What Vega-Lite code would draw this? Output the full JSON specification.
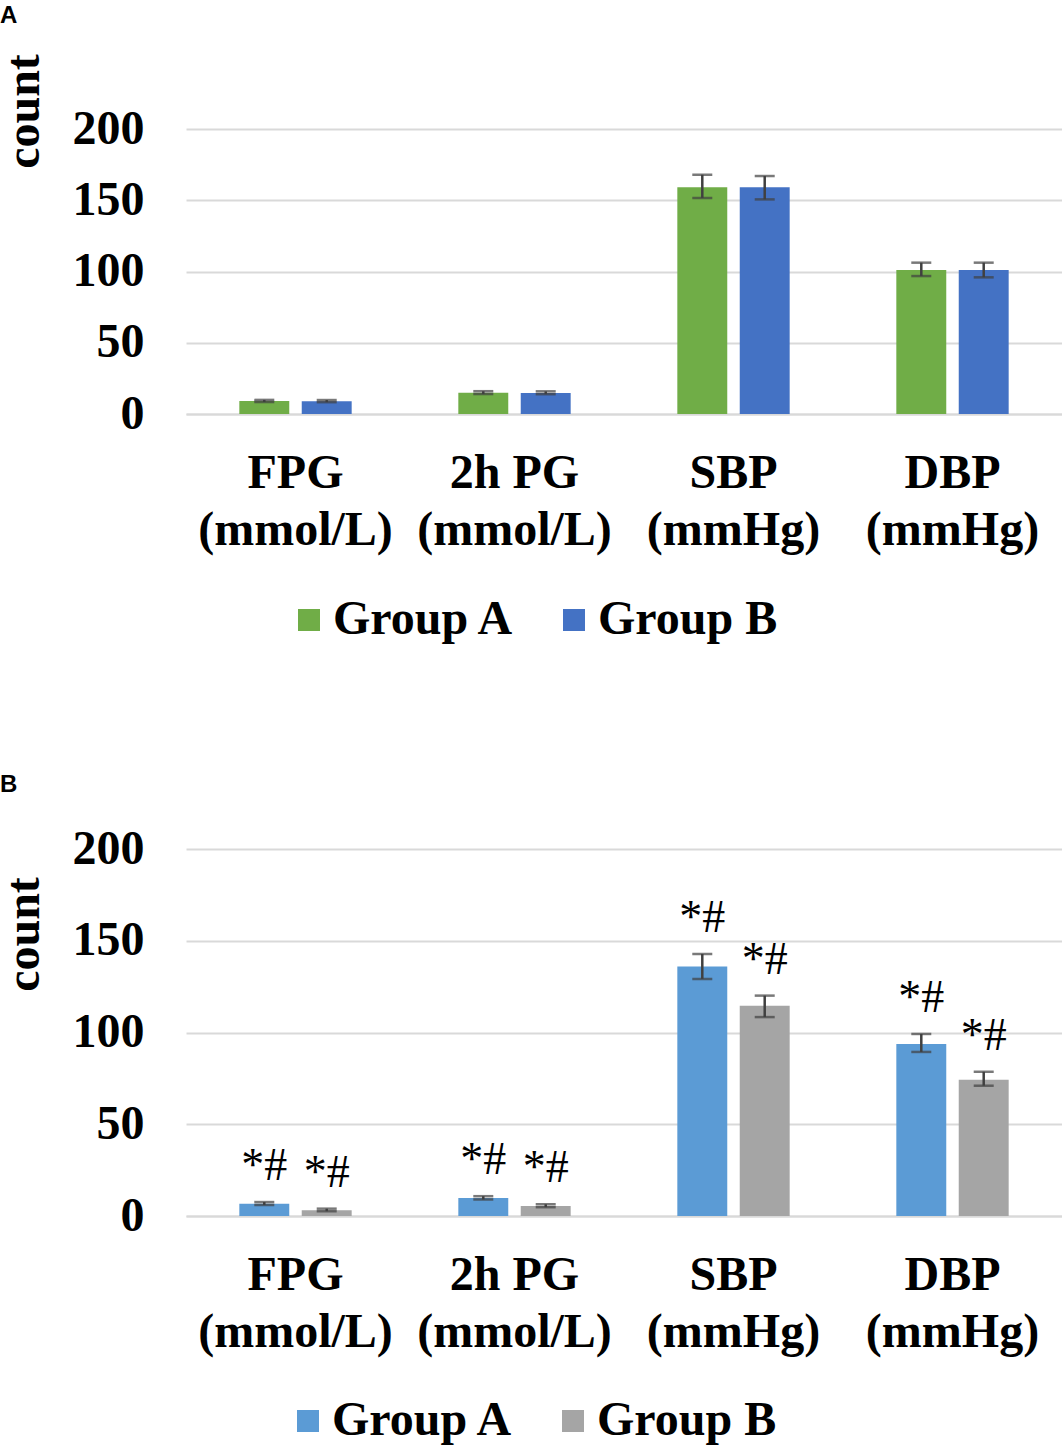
{
  "$schema": "https://vega.github.io/schema/vega-lite/v6.json",
  "padding": {"left": 0, "top": 3, "right": 0, "bottom": 0},
  "background": "white",
  "config": {
    "font": "Liberation Serif",
    "view": {"stroke": null},
    "axisX": {
      "labelFont": "Liberation Serif", "labelFontSize": 48, "labelFontWeight": "bold", "labelColor": "black",
      "labelAngle": 0, "labelLineHeight": 57, "labelPadding": 35, "labelLimit": 0, "ticks": false,
      "domainColor": "#d9d9d9", "domainWidth": 2, "grid": false, "title": null
    },
    "axisY": {
      "labelFont": "Liberation Serif", "labelFontSize": 48, "labelFontWeight": "bold", "labelColor": "black",
      "labelPadding": 42, "ticks": false, "domain": false, "gridColor": "#d9d9d9", "gridWidth": 2,
      "titleFont": "Liberation Serif", "titleFontSize": 48, "titleFontWeight": "bold", "titleColor": "black",
      "titleAngle": -90, "titleAlign": "center", "titleBaseline": "top"
    },
    "legend": {
      "labelFont": "Liberation Serif", "labelFontSize": 48, "labelFontWeight": "bold", "labelColor": "black",
      "labelLimit": 0, "symbolType": "square", "symbolSize": 484, "symbolStrokeWidth": 0, "labelOffset": 0, "columnPadding": 35,
      "direction": "horizontal", "title": null
    },
    "title": {"font": "Liberation Sans", "fontSize": 24, "fontWeight": "bold", "color": "black", "anchor": "start", "frame": "bounds"}
  },
  "datasets": {
    "a": [
      {"cat": "FPG (mmol/L)", "group": "Group A", "mean": 9.1, "lo": 8.4, "hi": 9.9},
      {"cat": "FPG (mmol/L)", "group": "Group B", "mean": 9.0, "lo": 8.3, "hi": 9.8},
      {"cat": "2h PG (mmol/L)", "group": "Group A", "mean": 14.9, "lo": 14.0, "hi": 16.0},
      {"cat": "2h PG (mmol/L)", "group": "Group B", "mean": 14.8, "lo": 13.9, "hi": 15.9},
      {"cat": "SBP (mmHg)", "group": "Group A", "mean": 159.1, "lo": 151.6, "hi": 167.9},
      {"cat": "SBP (mmHg)", "group": "Group B", "mean": 159.1, "lo": 150.6, "hi": 167.0},
      {"cat": "DBP (mmHg)", "group": "Group A", "mean": 101.0, "lo": 96.8, "hi": 106.2},
      {"cat": "DBP (mmHg)", "group": "Group B", "mean": 101.0, "lo": 95.9, "hi": 106.2}
    ],
    "b": [
      {"cat": "FPG (mmol/L)", "group": "Group A", "mean": 6.7, "lo": 6.0, "hi": 7.6, "sig": "*#"},
      {"cat": "FPG (mmol/L)", "group": "Group B", "mean": 3.2, "lo": 2.6, "hi": 4.0, "sig": "*#"},
      {"cat": "2h PG (mmol/L)", "group": "Group A", "mean": 9.8, "lo": 9.0, "hi": 10.8, "sig": "*#"},
      {"cat": "2h PG (mmol/L)", "group": "Group B", "mean": 5.5, "lo": 4.8, "hi": 6.4, "sig": "*#"},
      {"cat": "SBP (mmHg)", "group": "Group A", "mean": 135.9, "lo": 129.2, "hi": 142.8, "sig": "*#"},
      {"cat": "SBP (mmHg)", "group": "Group B", "mean": 114.6, "lo": 108.4, "hi": 120.1, "sig": "*#"},
      {"cat": "DBP (mmHg)", "group": "Group A", "mean": 93.7, "lo": 89.4, "hi": 99.2, "sig": "*#"},
      {"cat": "DBP (mmHg)", "group": "Group B", "mean": 74.3, "lo": 71.0, "hi": 78.6, "sig": "*#"}
    ]
  },
  "spacing": 129,
  "resolve": {"scale": {"color": "independent"}, "legend": {"color": "independent"}},
  "vconcat": [
    {
      "title": {"text": "A", "offset": 26},
      "width": 876,
      "height": 285,
      "data": {"name": "a"},
      "encoding": {
        "x": {
          "field": "cat", "type": "nominal", "sort": null,
          "scale": {"paddingInner": 0.487, "paddingOuter": 0.2435},
          "axis": {"labelExpr": "[slice(datum.label, 0, indexof(datum.label, ' (')), slice(datum.label, indexof(datum.label, ' (') + 1)]"}
        },
        "xOffset": {"field": "group", "type": "nominal", "scale": {"paddingInner": 0.2, "paddingOuter": 0}}
      },
      "layer": [
        {
          "mark": {"type": "bar"},
          "encoding": {
            "y": {"field": "mean", "type": "quantitative", "scale": {"domain": [0, 200]},
                  "axis": {"values": [0, 50, 100, 150, 200], "title": "count", "titleX": -186, "titleY": -18}},
            "color": {"field": "group", "type": "nominal",
                      "scale": {"domain": ["Group A", "Group B"], "range": ["#70AD47", "#4472C4"]},
                      "legend": {"orient": "none", "legendX": 99, "legendY": 467}}
          }
        },
        {
          "mark": {"type": "rule", "color": "#404040", "strokeWidth": 2.5},
          "encoding": {"y": {"field": "lo", "type": "quantitative"}, "y2": {"field": "hi"}}
        },
        {
          "mark": {"type": "tick", "color": "#404040", "thickness": 2.5, "size": 20},
          "encoding": {"y": {"field": "lo", "type": "quantitative"}}
        },
        {
          "mark": {"type": "tick", "color": "#404040", "thickness": 2.5, "size": 20},
          "encoding": {"y": {"field": "hi", "type": "quantitative"}}
        }
      ]
    },
    {
      "title": {"text": "B", "offset": 28},
      "width": 876,
      "height": 367,
      "data": {"name": "b"},
      "encoding": {
        "x": {
          "field": "cat", "type": "nominal", "sort": null,
          "scale": {"paddingInner": 0.487, "paddingOuter": 0.2435},
          "axis": {"labelExpr": "[slice(datum.label, 0, indexof(datum.label, ' (')), slice(datum.label, indexof(datum.label, ' (') + 1)]"}
        },
        "xOffset": {"field": "group", "type": "nominal", "scale": {"paddingInner": 0.2, "paddingOuter": 0}}
      },
      "layer": [
        {
          "mark": {"type": "bar"},
          "encoding": {
            "y": {"field": "mean", "type": "quantitative", "scale": {"domain": [0, 200]},
                  "axis": {"values": [0, 50, 100, 150, 200], "title": "count", "titleX": -186, "titleY": 85}},
            "color": {"field": "group", "type": "nominal",
                      "scale": {"domain": ["Group A", "Group B"], "range": ["#5B9BD5", "#A5A5A5"]},
                      "legend": {"orient": "none", "legendX": 98, "legendY": 548}}
          }
        },
        {
          "mark": {"type": "rule", "color": "#404040", "strokeWidth": 2.5},
          "encoding": {"y": {"field": "lo", "type": "quantitative"}, "y2": {"field": "hi"}}
        },
        {
          "mark": {"type": "tick", "color": "#404040", "thickness": 2.5, "size": 20},
          "encoding": {"y": {"field": "lo", "type": "quantitative"}}
        },
        {
          "mark": {"type": "tick", "color": "#404040", "thickness": 2.5, "size": 20},
          "encoding": {"y": {"field": "hi", "type": "quantitative"}}
        },
        {
          "mark": {"type": "text", "font": "Liberation Serif", "fontSize": 46, "baseline": "alphabetic", "dy": -22, "color": "black"},
          "encoding": {"y": {"field": "hi", "type": "quantitative"}, "text": {"field": "sig"}}
        }
      ]
    }
  ]
}
